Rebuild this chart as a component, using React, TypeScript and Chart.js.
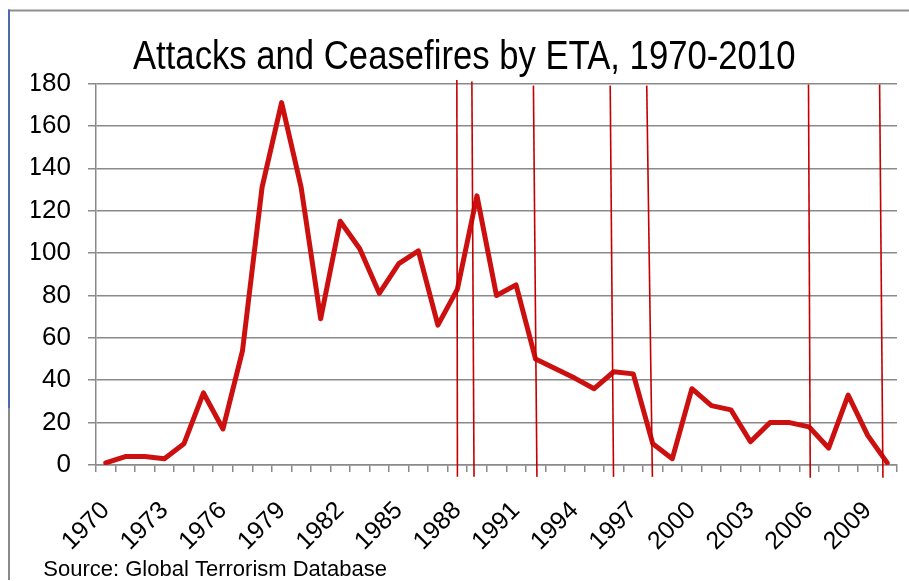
import React, { useEffect, useRef } from 'react';
import { Chart, registerables } from 'chart.js';

Chart.register(...registerables);

const TITLE = 'Attacks and Ceasefires by ETA, 1970-2010';
const SOURCE = 'Source: Global Terrorism Database';

const years = [
  '1970', '1971', '1972', '1973', '1974', '1975', '1976', '1977', '1978', '1979',
  '1980', '1981', '1982', '1983', '1984', '1985', '1986', '1987', '1988', '1989',
  '1990', '1991', '1992', '1993', '1994', '1995', '1996', '1997', '1998', '1999',
  '2000', '2001', '2002', '2003', '2004', '2005', '2006', '2007', '2008', '2009',
  '2010',
];

const attacks = [
  1, 4, 4, 3, 10, 34, 17, 54, 131, 171,
  131, 69, 115, 102, 81, 95, 101, 66, 83, 127,
  80, 85, 50, null, 41, 36, 44, 43, 10, 3,
  36, 28, 26, 11, 20, 20, 18, 8, 33, 14,
  1,
];

// Ceasefire markers (fractional year positions at top and bottom of each hand-drawn line)
const ceasefireTopYear = [1987.97, 1988.74, 1991.89, 1995.82, 1997.69, 2005.97, 2009.61];
const ceasefireBottomYear = [1988.0, 1988.85, 1992.07, 1995.99, 1997.98, 2006.06, 2009.78];
const ceasefireTopValue = [181.7, 181, 179, 179, 179, 179.5, 179.5];
const ceasefireBottomValue = [-5.6, -5.6, -5.6, -5.6, -5.6, -6, -6];

const yTicks = [0, 20, 40, 60, 80, 100, 120, 140, 160, 180];

const decorPlugin = {
  id: 'decor',
  beforeDraw(chart: any) {
    const ctx = chart.ctx;
    ctx.save();
    // frame: top grey line, left blue then grey line
    ctx.lineWidth = 2;
    ctx.strokeStyle = '#8f8f8f';
    ctx.beginPath();
    ctx.moveTo(8, 10.5);
    ctx.lineTo(909, 10.5);
    ctx.stroke();
    ctx.strokeStyle = '#4f6aab';
    ctx.beginPath();
    ctx.moveTo(9, 9.5);
    ctx.lineTo(9, 408);
    ctx.stroke();
    ctx.strokeStyle = '#8a8a8a';
    ctx.beginPath();
    ctx.moveTo(9, 408);
    ctx.lineTo(9, 580);
    ctx.stroke();
    // title (condensed look)
    ctx.fillStyle = '#000';
    ctx.font = "40px 'Liberation Sans', Arial, sans-serif";
    ctx.textAlign = 'center';
    ctx.textBaseline = 'alphabetic';
    ctx.translate(464.2, 69.3);
    ctx.scale(0.867, 1);
    ctx.fillText(TITLE, 0, 0);
    ctx.restore();
  },
  afterDatasetsDraw(chart: any) {
    const ctx = chart.ctx;
    const xs = chart.scales.x;
    const ys = chart.scales.y;
    ctx.save();
    ctx.strokeStyle = '#c40000';
    ctx.lineWidth = 1.6;
    for (let i = 0; i < ceasefireTopYear.length; i++) {
      const x0 = xs.getPixelForValue(ceasefireTopYear[i] - 1970);
      const x1 = xs.getPixelForValue(ceasefireBottomYear[i] - 1970);
      const y0 = ys.getPixelForValue(ceasefireTopValue[i]);
      const y1 = ys.getPixelForValue(ceasefireBottomValue[i]);
      ctx.beginPath();
      ctx.moveTo(x0, y0);
      ctx.lineTo(x1, y1);
      ctx.stroke();
    }
    // source note
    ctx.fillStyle = '#000';
    ctx.font = "22px 'Liberation Sans', Arial, sans-serif";
    ctx.textAlign = 'left';
    ctx.textBaseline = 'alphabetic';
    ctx.fillText(SOURCE, 43.3, 576);
    ctx.restore();
  },
};

export default function App() {
  const ref = useRef<HTMLCanvasElement | null>(null);

  useEffect(() => {
    if (!ref.current) return;
    const chart = new Chart(ref.current, {
      type: 'line',
      data: {
        labels: years,
        datasets: [
          {
            label: 'Attacks',
            data: attacks,
            borderColor: '#cc1010',
            backgroundColor: '#cc1010',
            borderWidth: 5,
            pointRadius: 0,
            pointHoverRadius: 0,
            tension: 0,
            spanGaps: true,
            borderJoinStyle: 'round',
            borderCapStyle: 'round',
          },
        ],
      },
      options: {
        responsive: false,
        animation: false,
        devicePixelRatio: 1,
        layout: { padding: { top: 83.5, left: 31.4, right: 12, bottom: 0 } },
        plugins: {
          legend: { display: false },
          tooltip: { enabled: false },
          title: { display: false },
        },
        scales: {
          x: {
            type: 'category',
            offset: true,
            grid: {
              offset: true,
              drawOnChartArea: false,
              drawTicks: true,
              tickLength: 7,
              color: '#8a8a8a',
              lineWidth: 1.5,
            },
            border: { display: true, color: '#8a8a8a', width: 1.5 },
            ticks: {
              autoSkip: false,
              maxRotation: 45,
              minRotation: 45,
              padding: 24,
              color: '#000',
              font: { family: "'Liberation Sans', Arial, sans-serif", size: 25 },
              callback: (_v: any, i: number) => (i % 3 === 0 ? years[i] : ''),
            },
            afterFit: (s: any) => {
              s.height = 116;
              s.paddingLeft = 0;
              s.paddingRight = 0;
            },
          },
          y: {
            min: 0,
            max: 180,
            afterBuildTicks: (s: any) => {
              s.ticks = yTicks.map((v) => ({ value: v }));
            },
            grid: {
              drawTicks: true,
              tickLength: 8,
              color: '#8a8a8a',
              lineWidth: 1.5,
            },
            border: { display: true, color: '#8a8a8a', width: 1.5 },
            ticks: {
              padding: 17,
              color: '#000',
              font: { family: "'Liberation Sans', Arial, sans-serif", size: 26 },
            },
            afterFit: (s: any) => {
              s.width = 64.6;
              s.paddingTop = 0;
              s.paddingBottom = 0;
            },
          },
        },
      },
      plugins: [decorPlugin],
    });
    return () => chart.destroy();
  }, []);

  return (
    <canvas
      ref={ref}
      width={909}
      height={581}
      style={{ position: 'fixed', left: 0, top: 0, width: 909, height: 581 }}
    />
  );
}
